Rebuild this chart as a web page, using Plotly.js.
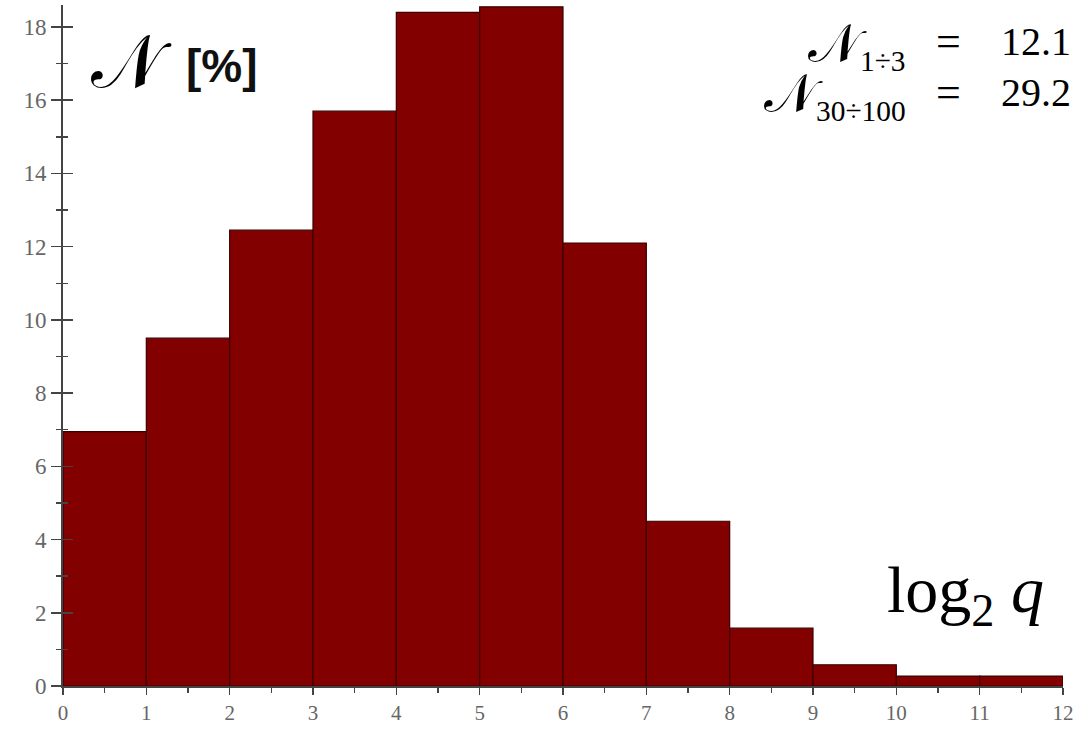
<!DOCTYPE html>
<html>
<head>
<meta charset="utf-8">
<script src="https://cdn.plot.ly/plotly-3.0.1.min.js"></script>
<style>html,body{margin:0;padding:0;background:#fff;}#chart{width:1079px;height:730px;}</style>
</head>
<body>
<div id="chart"></div>
<script>
// bin lower edges of log2 q and the share N [%] in each bin
const binStart = [0, 1, 2, 3, 4, 5, 6, 7, 8, 9, 10, 11];
const binWidth = [1, 1, 1, 1, 1, 1, 1, 1, 1, 1, 1, 1];
const percent  = [6.95, 9.5, 12.45, 15.7, 18.4, 18.55, 12.1, 4.5, 1.58, 0.58, 0.27, 0.27];
const xTicks = [0, 1, 2, 3, 4, 5, 6, 7, 8, 9, 10, 11, 12];
const yTicks = [0, 2, 4, 6, 8, 10, 12, 14, 16, 18];
const statSubs = ["1÷3", "30÷100"];
const statValues = ["12.1", "29.2"];

const centers = binStart.map((s, i) => s + binWidth[i] / 2);

const serif = "Liberation Serif, DejaVu Serif, serif";
const bigN = '<span style="font-family:DejaVu Sans;font-size:54px">𝒩</span>';

const trace = {
  type: "bar",
  x: centers,
  y: percent,
  width: binWidth,
  marker: {color: "#820000", line: {color: "#3a0000", width: 1.2}},
  hoverinfo: "x+y",
  showlegend: false
};

const ghost = {type: "scatter", x: [0], y: [0], yaxis: "y2", mode: "markers",
  marker: {opacity: 0}, hoverinfo: "skip", showlegend: false};

const statAnn = [];
[0.942, 0.868].forEach((yy, i) => {
  statAnn.push({xref: "paper", yref: "paper", x: 0.845, y: yy, xanchor: "right", yanchor: "middle",
    showarrow: false, text: bigN + "<sub>" + statSubs[i] + "</sub>", font: {family: serif, size: 42, color: "#000"}});
  statAnn.push({xref: "paper", yref: "paper", x: 0.8855, y: yy + 0.004, xanchor: "center", yanchor: "middle",
    showarrow: false, text: "=", font: {family: serif, size: 44, color: "#000"}});
  statAnn.push({xref: "paper", yref: "paper", x: 0.936, y: yy + 0.004, xanchor: "left", yanchor: "middle",
    showarrow: false, text: statValues[i], font: {family: serif, size: 40, color: "#000"}});
});

const layout = {
  width: 1079, height: 730,
  margin: {l: 63, r: 16, t: 5, b: 44},
  paper_bgcolor: "#fff", plot_bgcolor: "#fff",
  bargap: 0,
  xaxis: {
    range: [0, 12], tickvals: xTicks, ticktext: xTicks.map(String),
    showgrid: false, zeroline: false, showline: true, linecolor: "#444", linewidth: 2,
    ticks: "outside", ticklen: 7, tickwidth: 1.5, tickcolor: "#444",
    minor: {dtick: 0.5, ticks: "outside", ticklen: 5, tickcolor: "#444", tickwidth: 1.5, showgrid: false},
    tickfont: {family: serif, size: 21, color: "#666"}
  },
  yaxis: {
    range: [0, 18.6], tickvals: yTicks, ticktext: yTicks.map(String),
    showgrid: false, zeroline: false, showline: true, linecolor: "#444", linewidth: 2,
    ticks: "outside", ticklen: 10, tickwidth: 1.5, tickcolor: "#444",
    minor: {dtick: 1, ticks: "outside", ticklen: 5, tickcolor: "#444", tickwidth: 1.5, showgrid: false},
    tickfont: {family: serif, size: 23, color: "#666"}
  },
  yaxis2: {
    overlaying: "y", side: "left", range: [0, 18.6], tickvals: yTicks,
    showticklabels: false, showgrid: false, zeroline: false, showline: false,
    ticks: "inside", ticklen: 10, tickwidth: 1.5, tickcolor: "#444",
    minor: {dtick: 1, ticks: "inside", ticklen: 5, tickcolor: "#444", tickwidth: 1.5, showgrid: false}
  },
  annotations: [
    {xref: "paper", yref: "paper", x: 0.026, y: 0.918, xanchor: "left", yanchor: "middle",
     showarrow: false, text: "𝒩", font: {family: "DejaVu Sans, serif", size: 74, color: "#000"}},
    {xref: "paper", yref: "paper", x: 0.121, y: 0.91, xanchor: "left", yanchor: "middle",
     showarrow: false, text: "<b>[%]</b>", font: {family: "Liberation Sans, DejaVu Sans, sans-serif", size: 46, color: "#111"}},
    ...statAnn,
    {xref: "paper", yref: "paper", x: 0.983, y: 0.135, xanchor: "right", yanchor: "middle",
     showarrow: false, text: "log<sub>2</sub> <i>q</i>", font: {family: serif, size: 66, color: "#000"}}
  ]
};

Plotly.newPlot("chart", [trace, ghost], layout, {displayModeBar: false, staticPlot: true});
</script>
</body>
</html>
